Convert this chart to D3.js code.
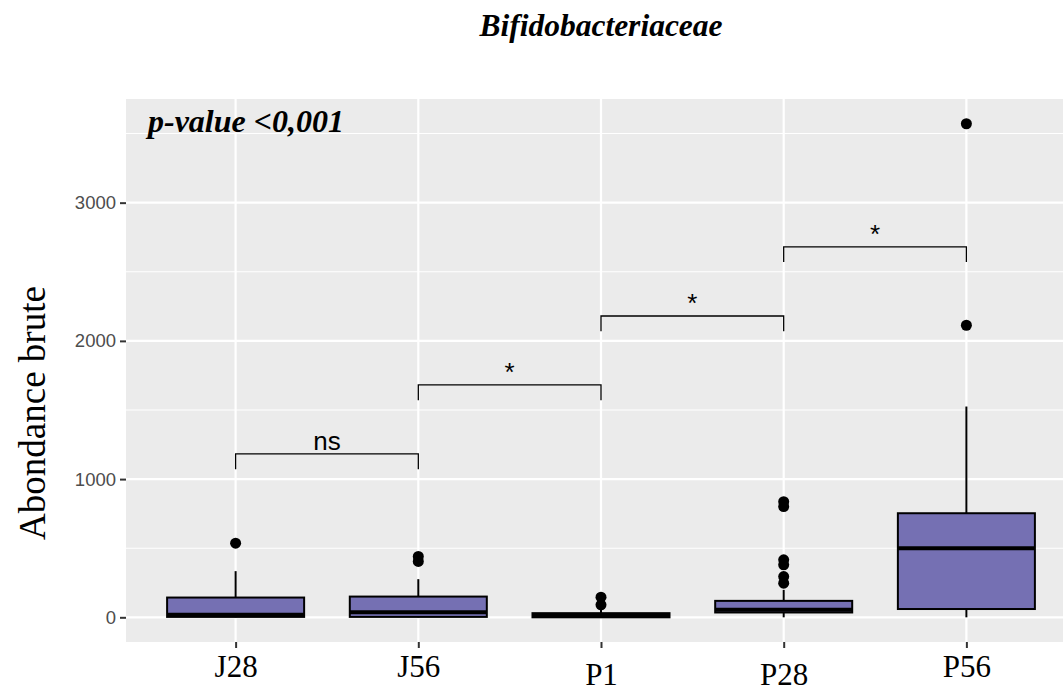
<!DOCTYPE html>
<html>
<head>
<meta charset="utf-8">
<script src="https://cdn.jsdelivr.net/npm/d3@7"></script>
<style>
html,body{margin:0;padding:0;background:#fff;}
svg{display:block;}
</style>
</head>
<body>
<svg id="chart" width="1063" height="696"></svg>
<script>
// ---- data ----
const categories = ["J28", "J56", "P1", "P28", "P56"];
const q1 =        [3,   3,   0,   35,  60];
const medians =   [18,  36,  10,  55,  500];
const q3 =        [143, 150, 30,  119, 753];
const whiskLow =  [0,   0,   0,   0,   0];
const whiskHigh = [334, 276, 60,  199, 1525];
const outliers = [
  [536],
  [440, 404],
  [146, 90],
  [837, 801, 416, 380, 295, 247],
  [3571, 2113]
];
const yTicks = [0, 1000, 2000, 3000];
const yMinor = [500, 1500, 2500, 3500];
const comparisons = [
  {from: "J28", to: "J56", y: 1182, label: "ns"},
  {from: "J56", to: "P1",  y: 1681, label: "*"},
  {from: "P1",  to: "P28", y: 2180, label: "*"},
  {from: "P28", to: "P56", y: 2680, label: "*"}
];
const tipLength = 110;
const titleText = "Bifidobacteriaceae";
const yLabel = "Abondance brute";
const pText = "p-value <0,001";

// ---- layout ----
const svg = d3.select("#chart");
const panel = {left: 126, right: 1076, top: 99, bottom: 642};

const x = d3.scalePoint().domain(categories).range([panel.left, panel.right]).padding(0.6);
const y = d3.scaleLinear().domain([-178.6, 3750]).range([panel.bottom, panel.top]);
const step = x.step();
const boxW = step * 0.75;

// panel background
svg.append("rect").attr("x", panel.left).attr("y", panel.top)
  .attr("width", panel.right - panel.left).attr("height", panel.bottom - panel.top)
  .attr("fill", "#EBEBEB");

const grid = svg.append("g");
grid.selectAll(".minor").data(yMinor).enter().append("line")
  .attr("x1", panel.left).attr("x2", panel.right)
  .attr("y1", d => y(d)).attr("y2", d => y(d))
  .attr("stroke", "#fff").attr("stroke-width", 1.1);
grid.selectAll(".major").data(yTicks).enter().append("line")
  .attr("x1", panel.left).attr("x2", panel.right)
  .attr("y1", d => y(d)).attr("y2", d => y(d))
  .attr("stroke", "#fff").attr("stroke-width", 2.2);
grid.selectAll(".vmajor").data(categories).enter().append("line")
  .attr("x1", d => x(d)).attr("x2", d => x(d))
  .attr("y1", panel.top).attr("y2", panel.bottom)
  .attr("stroke", "#fff").attr("stroke-width", 2.2);

// axes
const yAxis = d3.axisLeft(y).tickValues(yTicks).tickSize(6).tickPadding(4).tickFormat(d3.format("d"));
const gy = svg.append("g").attr("transform", `translate(${panel.left},0)`).call(yAxis);
gy.select(".domain").remove();
gy.selectAll(".tick line").attr("stroke", "#333").attr("stroke-width", 2);
gy.selectAll(".tick text").attr("fill", "#4D4D4D")
  .style("font-family", "'Liberation Sans', Arial, sans-serif").style("font-size", "18.5px");

const xAxis = d3.axisBottom(x).tickSize(6).tickPadding(0);
const gx = svg.append("g").attr("transform", `translate(0,${panel.bottom})`).call(xAxis);
gx.select(".domain").remove();
gx.selectAll(".tick line").attr("stroke", "#333").attr("stroke-width", 2);
const labelDrop = {J28: 0, J56: 0, P1: 8, P28: 8, P56: 0};
gx.selectAll(".tick text").attr("fill", "#000")
  .style("font-family", "'Liberation Serif', 'Times New Roman', serif").style("font-size", "31px")
  .attr("y", d => 35 + labelDrop[d]).attr("dy", "0");

// boxes
const boxes = svg.append("g");
categories.forEach((c, i) => {
  const cx = x(c);
  const g = boxes.append("g");
  g.append("line").attr("x1", cx).attr("x2", cx)
    .attr("y1", y(q3[i])).attr("y2", y(whiskHigh[i]))
    .attr("stroke", "#000").attr("stroke-width", 2);
  g.append("line").attr("x1", cx).attr("x2", cx)
    .attr("y1", y(q1[i])).attr("y2", y(whiskLow[i]))
    .attr("stroke", "#000").attr("stroke-width", 2);
  g.append("rect").attr("x", cx - boxW / 2).attr("width", boxW)
    .attr("y", y(q3[i])).attr("height", Math.max(0.5, y(q1[i]) - y(q3[i])))
    .attr("fill", "#7570B3").attr("stroke", "#000").attr("stroke-width", 2);
  g.append("line").attr("x1", cx - boxW / 2).attr("x2", cx + boxW / 2)
    .attr("y1", y(medians[i])).attr("y2", y(medians[i]))
    .attr("stroke", "#000").attr("stroke-width", 4);
  g.selectAll("circle").data(outliers[i]).enter().append("circle")
    .attr("cx", cx).attr("cy", d => y(d)).attr("r", 5.5).attr("fill", "#000");
});

// comparison brackets
const br = svg.append("g");
comparisons.forEach(cmp => {
  const x1 = x(cmp.from), x2 = x(cmp.to);
  const yy = y(cmp.y), yt = y(cmp.y - tipLength);
  br.append("path")
    .attr("d", `M${x1},${yt}L${x1},${yy}L${x2},${yy}L${x2},${yt}`)
    .attr("fill", "none").attr("stroke", "#000").attr("stroke-width", 1.3);
  br.append("text").attr("x", (x1 + x2) / 2).attr("y", yy - 4)
    .attr("text-anchor", "middle")
    .style("font-family", "'Liberation Sans', Arial, sans-serif")
    .style("font-size", "26px")
    .text(cmp.label);
});

// p-value annotation
svg.append("text").attr("x", 148).attr("y", 132)
  .style("font-family", "'Liberation Serif', 'Times New Roman', serif")
  .style("font-weight", "bold").style("font-style", "italic").style("font-size", "32px")
  .text(pText);

// title
svg.append("text").attr("x", (panel.left + panel.right) / 2).attr("y", 36)
  .attr("text-anchor", "middle")
  .style("font-family", "'Liberation Serif', 'Times New Roman', serif")
  .style("font-weight", "bold").style("font-style", "italic").style("font-size", "31.5px")
  .text(titleText);

// y label
svg.append("text")
  .attr("transform", `translate(45,413) rotate(-90)`)
  .attr("text-anchor", "middle")
  .style("font-family", "'Liberation Serif', 'Times New Roman', serif")
  .style("font-size", "37px")
  .text(yLabel);
</script>
</body>
</html>
